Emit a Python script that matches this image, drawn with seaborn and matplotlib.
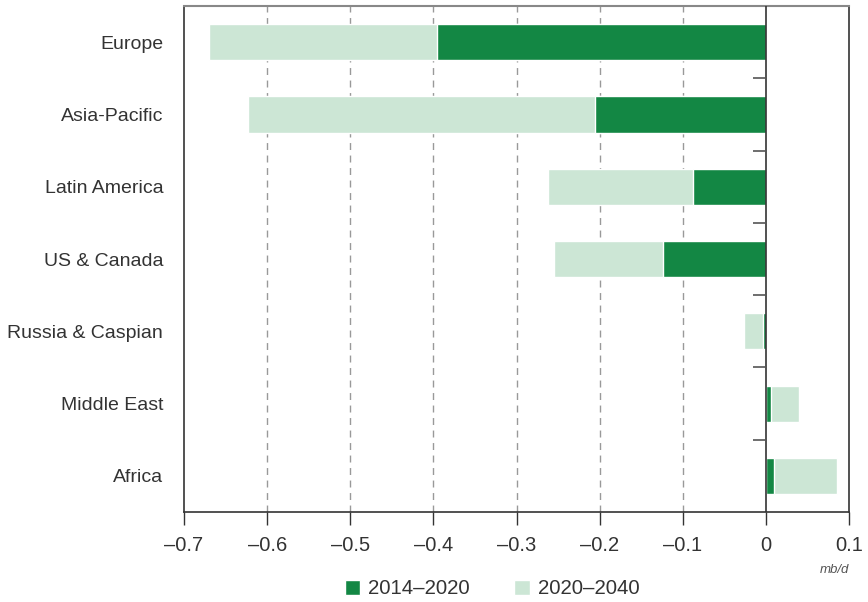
import numpy as np
import matplotlib.pyplot as plt
import pandas as pd
import seaborn as sns
from matplotlib.patches import Patch

regions = ['Europe', 'Asia-Pacific', 'Latin America', 'US & Canada',
           'Russia & Caspian', 'Middle East', 'Africa']
# change 2014-2020 and additional change 2020-2040 (mb/d)
chg_2014_2020 = [-0.396, -0.206, -0.088, -0.124, -0.004, 0.006, 0.010]
chg_2020_2040 = [-0.274, -0.417, -0.174, -0.131, -0.022, 0.034, 0.075]

dark = '#138744'
light = '#cce6d5'
txt = '#333333'

df = pd.DataFrame({'region': regions,
                   'p1': chg_2014_2020,
                   'p2': chg_2020_2040})
df['total'] = df['p1'] + df['p2']

sns.set_style('white')
plt.rcParams['font.family'] = ['Liberation Sans', 'DejaVu Sans']

fig = plt.figure(figsize=(8.68, 6.02), dpi=100)
ax = fig.add_axes([184 / 868, 1 - 512 / 602, (849 - 184) / 868, (512 - 6) / 602])

sns.barplot(data=df, x='total', y='region', orient='h', color=light,
            width=0.5, saturation=1, ax=ax, zorder=3)
sns.barplot(data=df, x='p1', y='region', orient='h', color=dark,
            width=0.5, saturation=1, ax=ax, zorder=4)

ax.set_xlim(-0.7, 0.1)
ax.set_ylim(6.5, -0.5)
ticks = np.round(np.arange(-0.7, 0.11, 0.1), 1)
ax.set_xticks(ticks)
ax.set_xticklabels([('\u2013' + str(abs(t))) if t < 0 else ('0' if t == 0 else str(t)) for t in ticks])
ax.set_xlabel('')
ax.set_ylabel('')

for t in ticks[1:-2]:
    ax.axvline(t, color='#999999', lw=1, ls=(0, (5, 4)), zorder=1)
ax.axvline(0, color=txt, lw=1.2, zorder=5)
for y in np.arange(0.5, 6, 1):
    ax.plot([-0.016, 0], [y, y], color='#555555', lw=1.2, zorder=5,
            solid_capstyle='butt')

ax.tick_params(axis='x', length=9, width=1, color=txt, labelsize=14.5,
               labelcolor=txt, pad=8, direction='out', bottom=True)
ax.tick_params(axis='y', length=0, labelsize=14, labelcolor=txt, pad=15)

for s in ['left', 'bottom', 'right']:
    ax.spines[s].set_color(txt)
    ax.spines[s].set_linewidth(1.2)
ax.spines['top'].set_color('#888888')
ax.spines['top'].set_linewidth(1.5)

fig.text(849 / 868, 1 - 570 / 602, 'mb/d', ha='right', va='center',
         fontsize=9.5, style='italic', color='#555555')

handles = [Patch(facecolor=dark, label='2014\u20132020'),
           Patch(facecolor=light, label='2020\u20132040')]
fig.legend(handles=handles, loc='center', bbox_to_anchor=(492 / 868, 1 - 589 / 602),
           ncol=2, frameon=False, fontsize=14.7, handlelength=0.78, handleheight=0.78,
           handletextpad=0.39, columnspacing=2.15, labelcolor=txt,
           borderpad=0, borderaxespad=0)

fig.savefig('out.png', dpi=100)
